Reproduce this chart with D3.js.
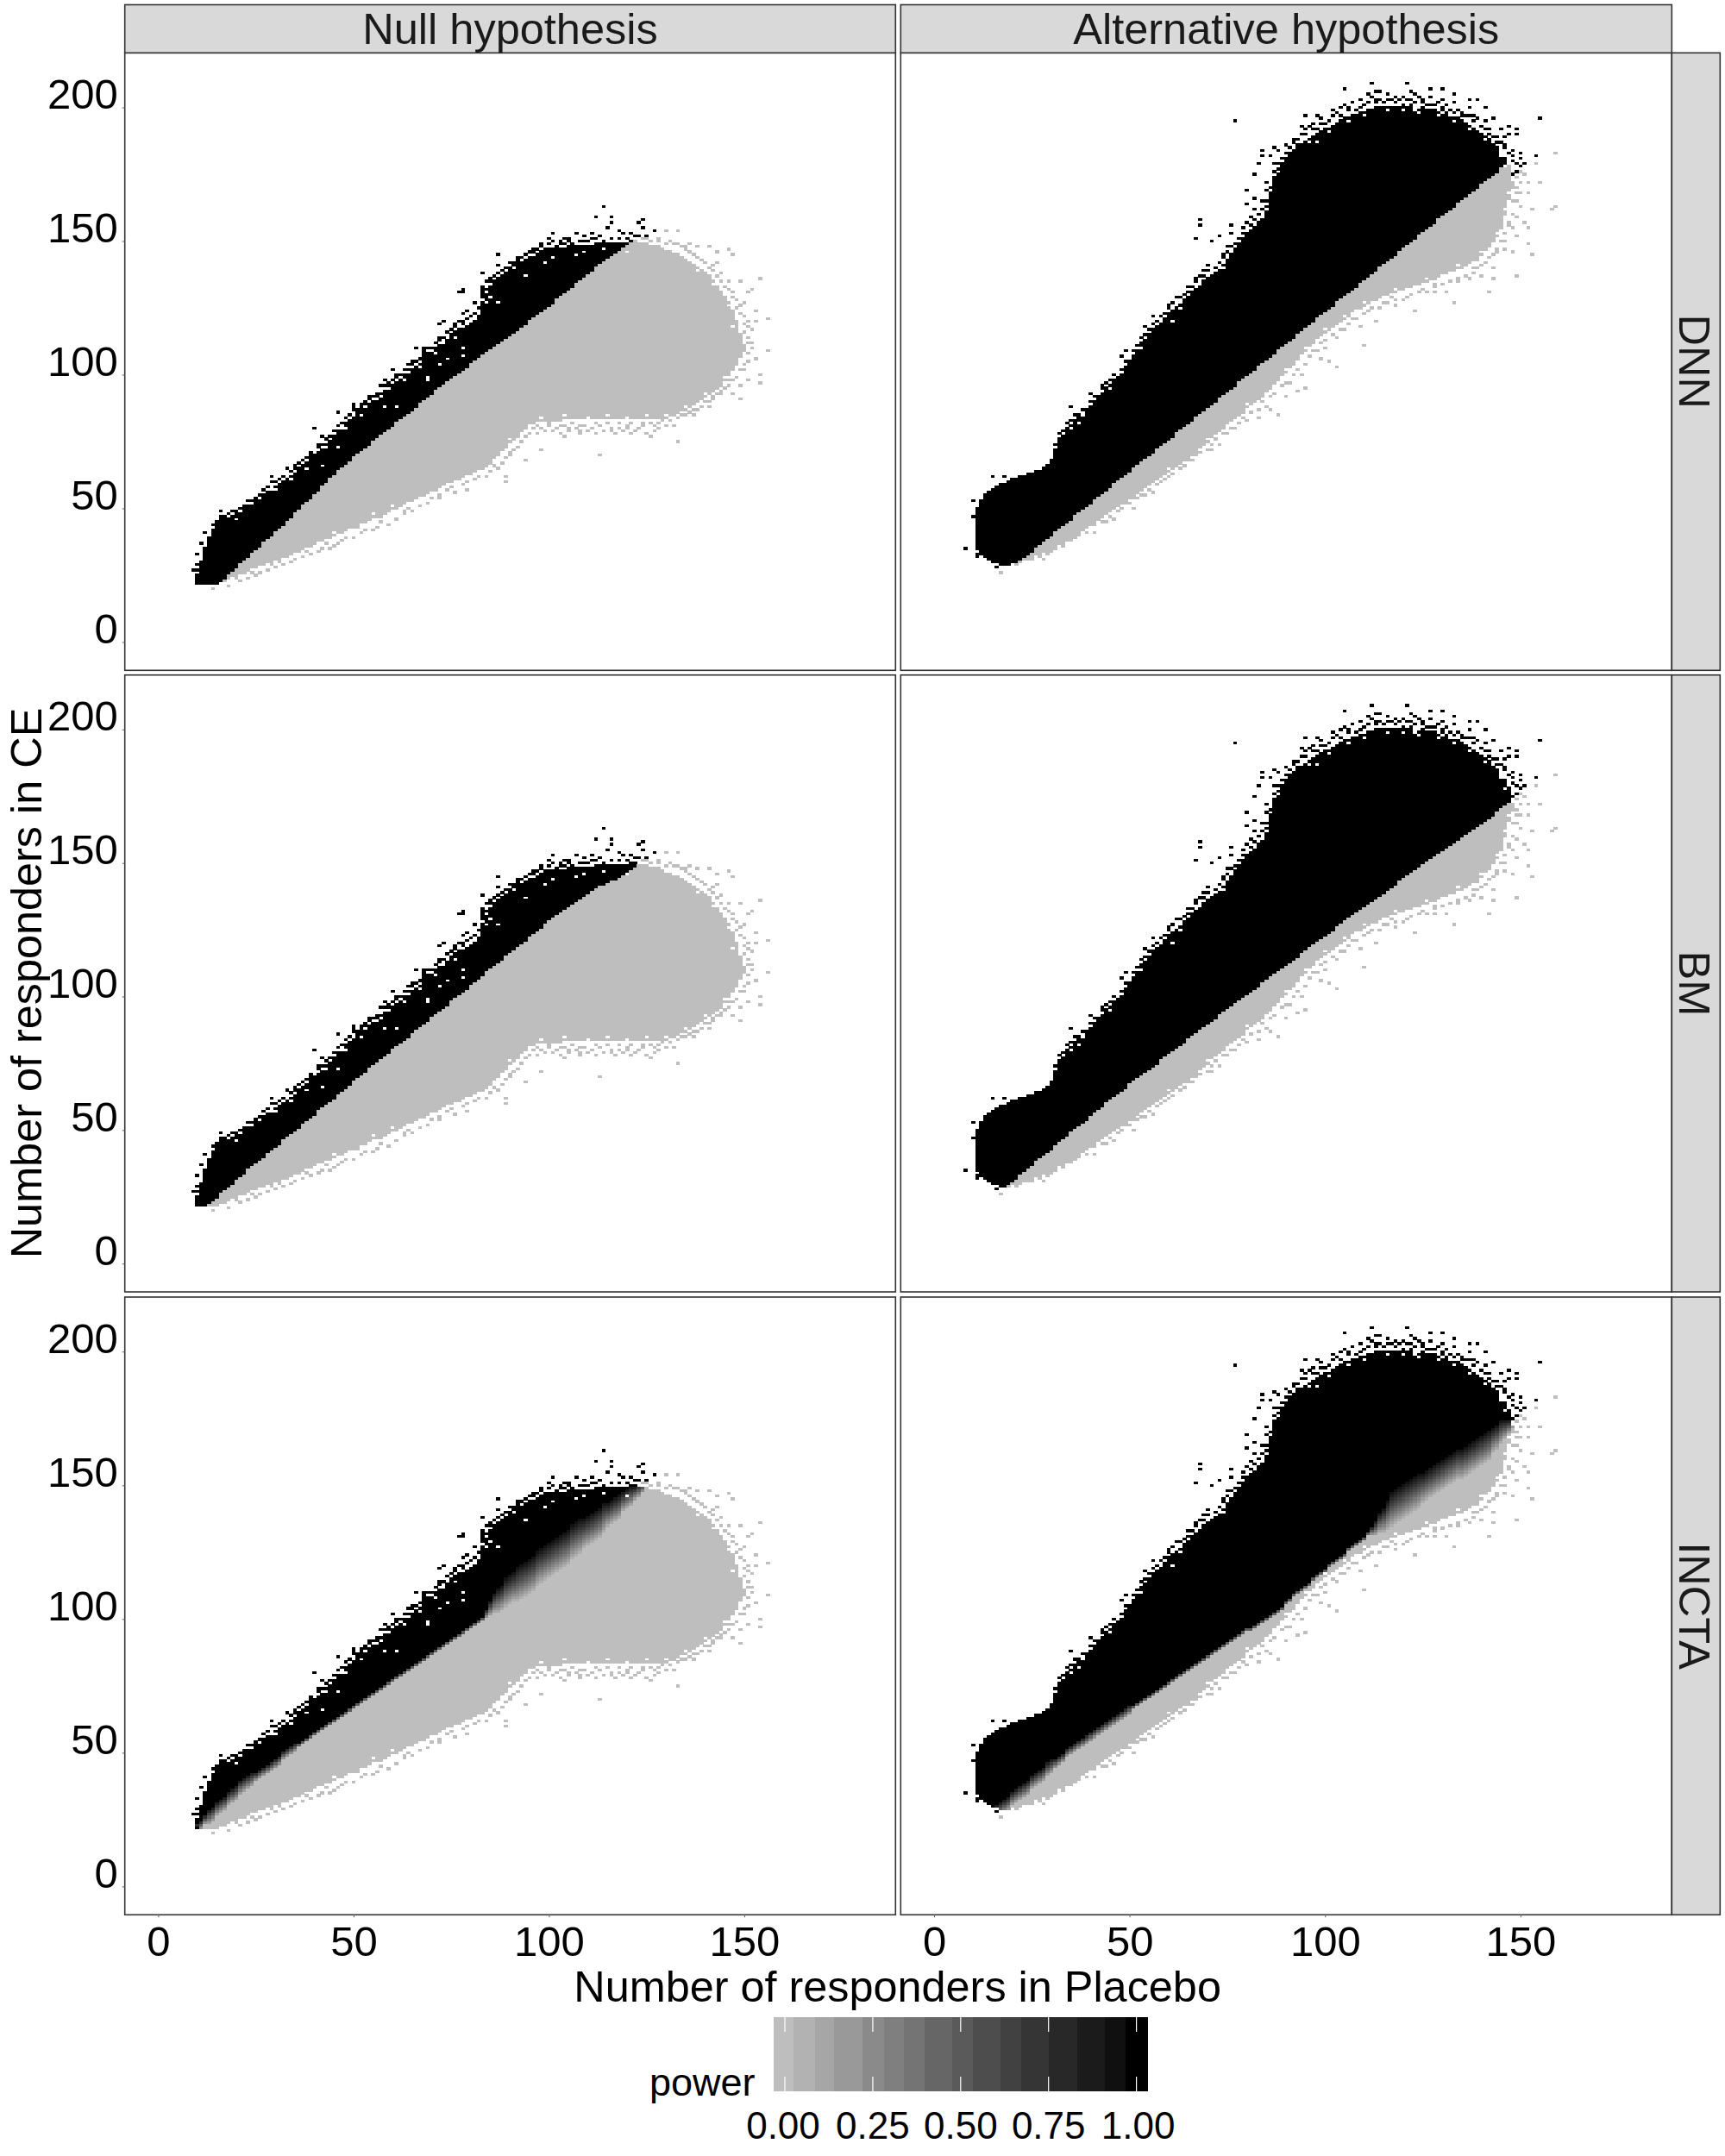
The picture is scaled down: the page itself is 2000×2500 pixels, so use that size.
<!DOCTYPE html>
<html><head><meta charset="utf-8"><title>Power tiles</title>
<script src="https://cdn.jsdelivr.net/npm/d3@7/dist/d3.min.js"></script>
<style>html,body{margin:0;padding:0;background:#fff}svg{display:block}text{font-family:"Liberation Sans",Arial,sans-serif}</style>
</head><body><svg id="c" width="2000" height="2500"></svg>
<script>
// ---------- categories and ticks ----------
const hypotheses = ["Null hypothesis","Alternative hypothesis"];
const methods = ["DNN","BM","INCTA"];
const xTicks = [0,50,100,150];
const yTicks = [0,50,100,150,200];
const legendTicks = [0,0.25,0.5,0.75,1];
const legendLabels = ["0.00","0.25","0.50","0.75","1.00"];
const legendBandEdges = [-0.031,0.025,0.085,0.141,0.221,0.282,0.338,0.397,0.476,0.535,0.614,0.672,0.751,0.831,0.910,0.969,1.031];
const xDomain = [-8.54,188.7];
const yDomain = [-10.6,220.4];

// ---------- Null hypothesis: occupied cells per placebo count (first column = 10) ----------
const nullFirst = 10;
const nullLow = [22,22,22,22,22,22,23,23,24,25,25,26,26,27,28,28,29,29,30,30,31,31,32,33,33,34,35,35,36,36,37,38,38,39,39,40,41,41,42,43,43,44,45,45,46,47,47,48,48,49,50,50,51,52,53,53,54,55,55,56,57,57,58,59,60,60,61,61,62,63,63,64,65,65,66,67,69,70,72,73,75,76,78,79,81,82,82,83,83,83,83,83,83,83,84,84,84,84,84,84,84,84,84,84,84,84,84,84,84,84,84,84,84,84,84,84,84,84,84,84,84,85,85,86,87,87,88,89,90,91,92,93,94,95,96,98,100,102,104,107,110];
const nullTop = [25,30,35,39,42,45,47,47,46,47,49,48,50,51,51,53,53,55,56,56,58,59,60,60,62,63,65,65,67,69,70,71,72,74,75,77,79,79,82,83,84,85,87,87,89,90,90,93,94,94,96,97,98,100,100,102,103,104,106,107,108,110,111,111,113,115,115,117,117,118,119,120,122,127,130,133,135,136,137,138,140,139,141,142,142,144,144,145,146,146,147,147,147,147,147,148,148,148,148,148,148,148,149,149,149,149,149,149,149,149,149,150,150,149,149,149,148,148,148,147,146,146,145,145,144,143,142,141,140,139,138,137,135,133,131,129,127,124,120,114,111];
const nullBoundaryDNN = [20,20,20,20,21,22,23,24,26,27,28,30,31,32,34,35,36,38,39,40,42,43,44,46,47,49,50,52,53,54,56,57,59,60,62,63,65,66,67,68,70,71,72,73,74,76,77,78,79,80,81,83,84,85,86,87,88,90,91,92,93,95,96,97,98,99,100,101,102,103,105,106,107,108,109,110,111,112,113,114,115,116,117,118,119,121,122,123,124,125,126,127,129,130,131,132,133,135,136,137,138,139,141,142,143,144,145,146,147,148,149,150];
const nullBoundaryBM = [20,20,21,23,24,25,27,28,29,30,32,33,34,36,37,38,39,40,42,43,44,45,47,48,49,50,51,53,54,55,56,58,59,60,61,62,64,65,66,67,69,70,71,72,74,75,76,77,78,79,81,82,83,84,85,87,88,89,90,91,93,94,95,96,97,99,100,101,102,103,105,106,107,108,110,111,112,113,114,116,117,118,119,120,121,123,124,125,126,128,129,130,131,132,133,134,135,136,137,138,139,140,141,142,142,143,144,144,145,146,147,148,149,150];
const nullBoundaryINCTA = [22,23,25,26,27,29,30,31,33,34,35,37,38,39,40,41,42,43,44,45,46,47,49,50,51,52,53,54,55,56,57,58,59,60,61,62,63,64,65,66,67,68,69,70,71,72,73,74,75,76,77,78,79,80,81,82,83,84,85,86,87,88,89,90,91,92,93,94,95,96,97,98,99,100,102,104,106,107,108,110,111,112,113,114,115,116,117,119,120,121,122,123,124,125,126,127,129,130,131,132,133,134,135,136,138,139,140,141,142,144,145,146,147,148,149,150];
const nullBandINCTA = [2,2,2,3,3,3,3,3,3,3,3,3,3,3,3,2,2,2,2,2,2,2,2,2,2,2,1,1,1,1,1,1,1,1,1,1,1,1,1,1,1,1,1,1,1,1,1,1,1,1,1,1,1,1,1,1,1,1,1,1,1,1,1,1,1,1,1,1,1,1,1,1,1,1,2,3,4,5,5,6,6,6,7,7,7,7,7,7,7,7,7,7,7,7,7,7,7,7,7,6,6,6,6,6,6,5,5,5,5,4,4,4,3,3,2,1];
const nullBlackSpecks = [[114,163],[112,159],[116,159],[116,157],[115,155],[124,158],[123,157],[124,155],[127,154],[125,152],[101,153],[100,151],[101,150],[104,151],[105,151],[107,153],[109,152],[111,153],[113,152],[118,154],[119,153],[121,153],[123,152],[87,145],[87,141],[90,142],[91,142],[92,140],[92,141],[92,142],[92,143],[95,144],[83,138],[77,131],[78,131],[78,132],[83,129],[83,130],[83,131],[83,132],[83,133],[87,130],[87,131],[87,132],[87,133],[81,127],[78,123],[79,124],[83,124],[83,125],[83,126],[73,120],[72,119],[76,116],[79,116],[79,114],[72,113],[74,113],[66,110],[68,110],[68,109],[71,110],[64,104],[65,105],[60,102],[61,100],[63,100],[58,98],[57,96],[54,92],[56,92],[53,90],[50,87],[50,88],[50,89],[55,90],[46,86],[51,86],[49,83],[40,80],[42,77],[45,77],[41,74],[39,70],[41,69],[33,65],[35,65],[37,66],[29,62],[29,60],[33,61],[28,56],[22,51],[22,49],[16,47],[17,47],[12,41],[11,37],[10,33],[10,29],[9,27],[10,27],[10,22],[109,150],[111,151],[98,149],[103,150],[96,147],[94,145],[84,135],[85,136],[76,119],[78,119],[68,107],[69,108],[59,96],[62,98],[52,88],[47,82],[37,68],[25,54],[26,55]];
const nullBlackEdge = [[14,44],[16,49],[18,48],[19,49],[21,50],[23,53],[24,53],[26,55],[27,57],[28,58],[30,60],[31,61],[32,62],[34,64],[35,66],[36,67],[37,68],[38,69],[39,71],[41,73],[42,74],[43,76],[44,77],[45,79],[46,81],[47,82],[48,84],[49,85],[51,87],[52,89],[53,89],[54,91],[55,92],[56,93],[58,96],[59,97],[60,98],[61,99],[62,100],[63,102],[64,102],[65,104],[66,105],[67,106],[68,108],[69,110],[70,110],[71,112],[72,114],[73,114],[74,116],[75,117],[76,118],[77,120],[78,120],[79,121],[80,122],[81,123],[82,125],[84,132],[85,135],[86,137],[87,138],[88,139],[89,140],[90,142],[91,141],[92,144],[93,144],[94,143],[95,146],[96,146],[97,147],[98,148],[99,147],[100,149],[102,148],[103,149],[104,149],[105,150],[106,149],[108,150],[110,150],[112,151],[114,150],[116,151],[118,151],[120,151],[122,152]];
const nullGreySpecks = [[130,154],[133,154],[128,150],[132,149],[135,147],[138,148],[141,148],[146,147],[147,145],[140,142],[143,142],[144,138],[142,139],[139,138],[146,135],[149,135],[154,136],[151,131],[152,132],[147,131],[150,127],[153,124],[149,123],[156,121],[153,120],[151,118],[149,115],[152,112],[156,109],[150,109],[148,106],[153,106],[151,105],[150,102],[154,100],[146,98],[151,98],[154,97],[149,96],[144,94],[147,93],[149,91],[142,91],[137,90],[141,88],[133,88],[137,85],[130,84],[127,81],[124,82],[120,81],[116,79],[121,78],[133,75],[126,77],[112,82],[108,81],[104,77],[113,70],[108,79],[100,82],[97,81],[94,80],[98,72],[92,77],[90,71],[94,68],[89,62],[89,60],[85,70],[83,67],[80,65],[77,62],[79,57],[73,63],[71,61],[67,57],[72,54],[66,54],[60,52],[63,49],[54,49],[55,42],[49,45],[48,39],[40,37],[45,36],[33,32],[36,34],[29,29],[25,25],[20,24],[14,20],[128,82],[118,80],[105,80],[103,81],[88,74],[86,71],[75,62],[68,56],[62,51],[57,47],[51,43],[43,37],[38,34],[31,30],[24,26],[136,149],[143,146],[148,125],[150,119]];
const nullGreyEdge = [[18,21],[21,23],[23,24],[26,26],[28,27],[30,28],[32,29],[34,30],[35,31],[37,32],[39,33],[41,34],[42,35],[44,35],[46,37],[47,38],[50,39],[52,41],[53,42],[56,43],[57,45],[59,44],[61,46],[63,48],[64,50],[65,49],[67,51],[69,52],[70,54],[72,55],[74,57],[75,58],[76,56],[78,59],[79,60],[81,61],[82,62],[84,62],[85,64],[86,66],[87,65],[88,67],[89,69],[90,70],[91,72],[92,73],[93,75],[94,77],[95,78],[96,80],[97,78],[98,80],[99,79],[100,81],[101,79],[102,80],[103,78],[104,81],[105,79],[106,82],[107,80],[108,78],[109,81],[110,79],[111,80],[112,78],[113,81],[114,79],[115,82],[116,80],[117,78],[118,82],[119,79],[120,80],[121,82],[122,79],[123,80],[124,81],[125,78],[126,82],[127,79],[128,80],[129,83],[130,81],[131,83],[132,81],[133,84],[134,85],[135,85],[136,86],[137,87],[138,87],[139,88],[140,90],[141,90],[142,92],[143,93],[144,93],[145,95],[146,96],[147,98],[148,99],[149,102],[150,104],[151,108],[152,110],[151,112],[151,114],[150,116],[152,117],[151,120],[150,122],[149,126],[148,128],[147,129],[146,132],[145,133],[144,135],[143,137],[142,141],[141,140],[139,143],[138,144],[137,145],[136,146],[135,148],[134,148],[133,149],[131,150],[130,149],[128,151],[126,150],[125,151],[124,151],[123,152]];
const nullHoles = [[94,137],[114,147],[120,146],[107,145],[109,146],[99,142],[101,144],[78,107],[78,110],[72,104],[74,106],[69,98],[69,99],[61,88],[58,88],[46,73],[42,66],[20,46],[85,129],[84,127],[87,127],[30,57],[34,61],[38,65],[43,73],[48,80],[52,85],[57,92],[63,98],[67,103],[71,108],[76,114],[45,41],[55,48],[60,51],[68,56],[75,62],[83,67],[90,76],[98,84],[104,85],[110,84],[115,85],[120,84],[125,85],[130,85],[135,88],[140,93],[145,99],[148,106],[147,118],[146,126],[142,134],[138,139]];

// ---------- Alternative hypothesis (first column = 11) ----------
const altFirst = 11;
const altLow = [35,33,32,31,30,30,29,29,29,30,30,31,31,32,32,33,33,34,34,35,36,37,37,38,39,40,41,42,43,44,45,46,47,48,49,50,51,52,53,54,54,56,57,58,59,60,61,62,63,64,65,66,67,68,69,70,71,73,74,75,77,78,79,80,82,83,84,85,86,88,89,90,91,92,94,95,97,98,100,101,103,104,106,108,109,111,112,114,115,116,117,118,119,120,121,122,124,125,125,126,127,128,128,129,130,130,131,131,132,132,133,133,134,134,135,135,136,136,137,138,138,139,139,140,140,141,142,143,144,145,147,148,150,152,155,160,166,170];
const altTop = [50,53,55,56,57,58,59,59,60,61,61,62,62,63,63,64,64,65,66,68,72,76,77,80,81,83,84,84,86,88,90,92,93,95,96,97,99,100,103,105,107,109,112,113,115,117,118,119,121,123,124,125,126,128,129,131,132,133,135,136,136,138,139,141,143,145,147,149,151,153,154,155,157,158,161,168,174,177,179,181,183,184,186,186,187,188,189,190,191,191,192,193,194,195,196,196,197,197,198,198,199,199,200,200,200,200,200,200,200,200,200,200,199,199,199,199,199,198,198,197,197,196,196,196,195,194,193,192,191,190,189,188,186,185,183,181,178,172];
const altBoundaryDNN = [20,20,20,20,20,20,20,20,20,20,30,31,32,33,34,36,37,38,39,40,42,43,44,45,46,48,49,50,51,52,54,55,56,57,58,60,61,62,63,64,66,67,68,69,70,71,73,74,75,76,77,79,80,81,82,83,85,86,87,88,89,90,92,93,94,95,96,98,99,100,101,102,104,105,106,107,108,110,111,112,113,114,116,117,118,119,120,122,123,124,125,126,128,129,130,131,132,133,135,136,137,138,139,141,142,143,144,145,147,148,149,150,151,153,154,155,156,157,159,160,161,162,163,165,166,167,168,169,170,172,173,174,175,176,178,179,180,181];
const altBoundaryBM = [20,20,20,20,20,20,20,20,30,31,32,34,35,36,37,39,40,41,42,43,45,46,47,48,50,51,52,53,54,56,57,58,59,61,62,63,64,65,66,68,69,70,71,72,73,74,75,77,78,79,80,81,82,83,85,86,87,88,89,90,91,92,94,95,96,97,98,99,100,101,102,103,104,106,107,108,109,110,111,112,113,114,115,117,118,119,120,121,122,123,124,125,127,128,129,130,131,132,133,134,135,136,137,138,139,140,141,142,144,145,146,147,148,149,150,151,152,153,154,155,156,157,158,159,160,161,162,163,164,165,166,167,168,170,171,172,173,174];
const altBoundaryINCTA = [20,20,20,20,20,28,29,30,31,33,34,35,36,37,39,40,41,42,44,45,46,47,48,50,51,52,53,54,55,56,57,58,59,60,61,62,63,64,65,66,67,68,69,70,71,72,73,74,75,76,77,78,79,80,81,82,83,84,85,86,87,88,89,90,91,92,93,94,95,96,96,97,98,99,100,101,102,103,104,106,107,109,110,111,112,113,115,116,117,118,120,121,122,123,124,126,127,128,129,130,132,133,134,136,137,139,141,142,143,144,145,146,147,148,149,150,151,152,153,154,155,156,157,158,158,159,160,161,162,163,164,165,167,168,170,171,172,174];
const altBandINCTA = [3,3,3,3,3,3,3,3,3,3,3,3,3,3,3,3,3,3,3,3,2,2,2,2,2,2,2,2,2,2,2,2,2,2,2,2,2,2,2,2,1,1,1,1,1,1,1,1,1,1,1,1,1,1,1,1,1,1,1,1,1,1,1,1,1,1,1,1,1,1,1,1,1,1,1,1,1,1,1,1,1,1,1,1,1,1,1,1,1,1,1,1,1,1,1,1,1,1,1,1,1,2,3,4,5,6,7,7,7,7,7,7,7,7,6,6,6,6,6,6,6,6,6,6,6,6,6,6,6,6,6,6,5,5,5,4,3,3];
const altBlackSpecks = [[112,209],[121,209],[105,207],[113,206],[114,206],[127,207],[130,207],[122,206],[133,205],[137,203],[123,205],[111,205],[113,203],[116,203],[118,202],[120,201],[122,201],[125,203],[127,201],[130,203],[130,200],[133,202],[139,203],[137,200],[141,200],[134,199],[138,197],[143,196],[141,195],[147,193],[149,192],[142,192],[145,192],[149,190],[155,196],[146,189],[147,190],[144,187],[150,183],[154,182],[148,180],[150,181],[149,179],[151,179],[106,200],[104,200],[102,197],[109,200],[95,197],[98,197],[94,193],[99,194],[100,192],[97,192],[95,190],[77,195],[90,186],[92,187],[93,184],[88,184],[84,184],[84,182],[87,185],[86,182],[83,179],[87,179],[82,175],[85,172],[80,169],[85,169],[82,166],[84,165],[80,164],[82,162],[85,163],[81,159],[84,158],[68,158],[68,156],[67,151],[76,156],[82,154],[84,151],[73,152],[76,153],[79,153],[71,150],[75,148],[78,148],[81,147],[74,145],[76,142],[70,141],[69,139],[71,137],[67,136],[69,134],[74,134],[65,133],[71,132],[67,130],[62,129],[64,128],[60,126],[64,124],[67,125],[61,123],[56,122],[63,120],[58,119],[54,118],[56,116],[55,114],[54,112],[56,110],[49,109],[48,107],[50,103],[48,100],[46,98],[43,95],[40,93],[45,93],[47,92],[35,88],[42,87],[39,87],[37,85],[34,82],[39,82],[37,80],[31,74],[33,72],[31,68],[28,65],[15,62],[18,62],[19,59],[17,59],[10,53],[10,47],[8,35],[11,43],[11,45],[11,32],[11,33],[15,30],[16,28],[13,32],[125,200],[128,199],[119,200],[131,198],[135,198],[110,198],[142,186],[144,184],[146,186],[148,184],[150,178]];
const altBlackEdge = [[32,78],[33,79],[35,83],[36,85],[38,87],[40,90],[41,92],[43,96],[44,97],[45,98],[46,100],[48,102],[49,105],[51,109],[52,111],[53,114],[54,115],[55,117],[56,119],[57,120],[58,122],[59,123],[60,125],[61,127],[63,129],[64,130],[65,131],[66,133],[67,135],[68,137],[69,137],[70,139],[72,140],[73,142],[74,144],[75,146],[76,148],[77,149],[78,151],[79,155],[80,157],[81,156],[82,158],[83,160],[84,162],[85,165],[86,170],[87,176],[88,179],[89,181],[90,183],[91,185],[92,188],[93,188],[94,190],[95,192],[96,193],[97,194],[98,192],[99,196],[100,194],[101,195],[102,199],[103,198],[104,197],[105,201],[106,199],[107,202],[108,199],[109,203],[110,201],[111,202],[112,204],[113,202],[114,203],[115,202],[116,205],[117,203],[118,204],[119,203],[120,204],[121,203],[122,203],[123,202],[124,204],[125,202],[126,201],[127,204],[128,201],[129,202],[130,199],[131,201],[132,199],[133,198],[134,199],[135,197],[136,197],[137,197],[138,195],[139,196],[140,193],[141,192],[142,190],[143,189],[144,189],[145,187],[146,185],[147,183],[148,182],[149,176],[148,175]];
const altGreySpecks = [[159,183],[154,179],[150,176],[155,172],[152,172],[149,170],[152,168],[158,162],[159,163],[150,163],[153,162],[149,159],[151,157],[147,156],[152,155],[149,152],[146,150],[152,149],[153,145],[148,146],[144,146],[141,142],[139,143],[143,140],[149,137],[138,140],[135,140],[132,140],[143,136],[140,137],[137,136],[134,135],[142,131],[131,131],[128,131],[133,127],[124,134],[121,129],[123,124],[117,129],[118,126],[113,131],[109,126],[113,120],[109,118],[107,121],[110,111],[105,121],[103,114],[100,110],[103,103],[97,109],[101,105],[94,100],[95,95],[91,97],[88,85],[90,92],[85,88],[83,84],[80,83],[77,80],[73,74],[69,74],[71,72],[65,68],[62,66],[60,62],[56,56],[54,55],[49,52],[46,46],[41,41],[36,39],[30,34],[28,31],[17,26],[21,29],[150,168],[149,165],[148,155],[146,147],[128,134],[125,132],[115,127],[111,124],[105,117],[99,106],[93,94],[86,87],[75,78],[67,70],[58,60],[51,50],[44,45],[33,36],[25,31]];
const altGreyEdge = [[22,30],[24,31],[27,32],[29,33],[31,35],[33,36],[35,38],[37,40],[39,41],[41,44],[43,45],[45,47],[47,49],[48,50],[50,52],[52,54],[53,55],[55,57],[57,59],[59,61],[61,63],[63,65],[64,66],[66,68],[68,71],[70,72],[71,74],[72,76],[74,78],[76,80],[78,82],[79,84],[81,86],[83,87],[84,90],[86,92],[87,93],[89,96],[90,97],[92,100],[93,102],[95,104],[96,107],[98,109],[99,112],[100,113],[102,115],[104,117],[106,119],[108,121],[110,123],[112,125],[114,125],[116,127],[118,128],[120,128],[122,130],[124,131],[126,131],[128,133],[130,134],[132,135],[134,136],[136,137],[138,138],[139,140],[140,141],[142,144],[143,145],[144,147],[145,150],[146,153],[147,157],[148,160],[148,165],[149,168],[149,174],[150,172],[151,175]];
const altHoles = [[145,183],[145,182],[49,105],[133,197],[134,197],[135,197],[136,197],[120,199],[123,199],[143,190],[141,190],[98,187],[88,176],[84,160],[74,140],[72,141],[61,120],[53,110],[37,82],[96,187],[101,191],[106,195],[110,197],[116,199],[124,198],[129,197],[133,195],[137,192],[141,188],[146,178],[78,148],[63,125],[54,112],[45,95],[35,80],[60,65],[70,76],[80,89],[90,102],[95,110],[100,117],[105,122],[110,127],[118,132],[126,136],[134,141],[140,146],[144,153],[146,162],[147,168]];

// ---------- scales and layout ----------
const colLeft = [144.7,1044.3], colRight = [1038.3,1938.3];
const rowTop = [61.3,782.7,1504], rowBottom = [777.3,1498,2220.3];
const powerColor = d3.scaleLinear().domain([0,1]).range(["#BEBEBE","#000000"]).interpolate(d3.interpolateLab).clamp(true);
const svg = d3.select("#c");
const panelData = [
  [nullBoundaryDNN,altBoundaryDNN,null,null],
  [nullBoundaryBM,altBoundaryBM,null,null],
  [nullBoundaryINCTA,altBoundaryINCTA,nullBandINCTA,altBandINCTA]
];

function buildCells(first,low,top,boundary,band,black,grey,holes){
  const skip = new Set(holes.map(d=>d.join(",")));
  const cells = [];
  low.forEach((lo,i)=>{
    const p = first+i, b = boundary[i], w = band?band[i]:0;
    for(let c=lo;c<=top[i];c++){
      if(skip.has(p+","+c)) continue;
      let power = 0;
      if(b!==undefined){
        power = w>0 ? d3.scaleLinear().domain([b-w,b+w]).range([0,1]).clamp(true)(c) : (c>=b?1:0);
      }
      cells.push({p,c,power});
    }
  });
  grey.forEach(d=>cells.push({p:d[0],c:d[1],power:0}));
  black.forEach(d=>cells.push({p:d[0],c:d[1],power:1}));
  return cells;
}

methods.forEach((m,r)=>{
  hypotheses.forEach((h,k)=>{
    const x = d3.scaleLinear().domain(xDomain).range([colLeft[k],colRight[k]]);
    const y = d3.scaleLinear().domain(yDomain).range([rowBottom[r],rowTop[r]]);
    const g = svg.append("g");
    g.append("rect").attr("x",colLeft[k]).attr("y",rowTop[r]).attr("width",colRight[k]-colLeft[k]).attr("height",rowBottom[r]-rowTop[r]).attr("fill","#fff");
    const cells = k===0
      ? buildCells(nullFirst,nullLow,nullTop,panelData[r][0],panelData[r][2],[...nullBlackSpecks,...nullBlackEdge],[...nullGreySpecks,...nullGreyEdge],nullHoles)
      : buildCells(altFirst,altLow,altTop,panelData[r][1],panelData[r][3],[...altBlackSpecks,...altBlackEdge],[...altGreySpecks,...altGreyEdge],altHoles);
    const cw = x(1)-x(0), ch = y(0)-y(1);
    g.append("g").attr("shape-rendering","crispEdges").selectAll("rect").data(cells).join("rect")
      .attr("x",d=>x(d.p-0.5)).attr("y",d=>y(d.c+0.5))
      .attr("width",cw+0.2).attr("height",ch+0.2)
      .attr("fill",d=>powerColor(d.power));
    g.append("rect").attr("x",colLeft[k]).attr("y",rowTop[r]).attr("width",colRight[k]-colLeft[k]).attr("height",rowBottom[r]-rowTop[r]).attr("fill","none").attr("stroke","#333").attr("stroke-width",1.6);
    if(k===0){
      const ax = svg.append("g").attr("transform",`translate(${colLeft[0]},0)`).call(d3.axisLeft(y).tickValues(yTicks).tickSize(3).tickPadding(5));
      ax.select(".domain").remove();
      ax.selectAll("line").attr("stroke","#666");
      ax.selectAll("text").attr("dy",0).attr("y",1).attr("fill","#000").style("font-size","49px").style("font-family",'"Liberation Sans"');
    }
    if(r===2){
      const ax = svg.append("g").attr("transform",`translate(0,${rowBottom[2]})`).call(d3.axisBottom(x).tickValues(xTicks).tickSize(3));
      ax.select(".domain").remove();
      ax.selectAll("line").attr("stroke","#666");
      ax.selectAll("text").attr("dy",0).attr("y",48).attr("fill","#000").style("font-size","49px").style("font-family",'"Liberation Sans"');
    }
  });
  // right strip
  const cy = (rowTop[r]+rowBottom[r])/2;
  svg.append("rect").attr("x",colRight[1]).attr("y",rowTop[r]).attr("width",56).attr("height",rowBottom[r]-rowTop[r]).attr("fill","#D9D9D9").attr("stroke","#333").attr("stroke-width",1.6);
  svg.append("text").attr("transform",`translate(1947,${cy}) rotate(90)`).attr("text-anchor","middle").attr("fill","#1a1a1a").style("font-size","50.5px").text(m);
});

hypotheses.forEach((h,k)=>{
  svg.append("rect").attr("x",colLeft[k]).attr("y",5.5).attr("width",colRight[k]-colLeft[k]).attr("height",rowTop[0]-5.5).attr("fill","#D9D9D9").attr("stroke","#333").attr("stroke-width",1.6);
  svg.append("text").attr("x",(colLeft[k]+colRight[k])/2).attr("y",51).attr("text-anchor","middle").attr("fill","#1a1a1a").style("font-size","50.5px").text(h);
});

// axis titles
svg.append("text").attr("x",1040.6).attr("y",2321).attr("text-anchor","middle").attr("fill","#000").style("font-size","50.4px").text("Number of responders in Placebo");
svg.append("text").attr("transform","translate(48,1140) rotate(-90)").attr("text-anchor","middle").attr("fill","#000").style("font-size","50.4px").text("Number of responders in CE");

// colour bar legend
const legendX = d3.scaleLinear().domain([0,1]).range([910,1317.6]);
const barTop = 2339, barBottom = 2425;
const bands = d3.pairs(legendBandEdges);
svg.append("g").attr("shape-rendering","crispEdges").selectAll("rect").data(bands).join("rect")
  .attr("x",d=>legendX(d[0])).attr("y",barTop).attr("width",d=>legendX(d[1])-legendX(d[0])+0.3).attr("height",barBottom-barTop)
  .attr("fill",d=>powerColor((d[0]+d[1])/2));
legendTicks.forEach(t=>{
  svg.append("line").attr("x1",legendX(t)).attr("x2",legendX(t)).attr("y1",barTop).attr("y2",barTop+17).attr("stroke","#fff").attr("stroke-width",1.2);
  svg.append("line").attr("x1",legendX(t)).attr("x2",legendX(t)).attr("y1",barBottom-17).attr("y2",barBottom).attr("stroke","#fff").attr("stroke-width",1.2);
});
svg.selectAll(".ll").data(legendLabels).join("text").attr("class","ll")
  .attr("x",(d,i)=>legendX(legendTicks[i])-(i===0?2:i===4?-2:0)).attr("y",2480).attr("text-anchor","middle").attr("fill","#000").style("font-size","44px").text(d=>d);
svg.append("text").attr("x",875.5).attr("y",2430).attr("text-anchor","end").attr("fill","#000").style("font-size","45px").text("power");
</script></body></html>
